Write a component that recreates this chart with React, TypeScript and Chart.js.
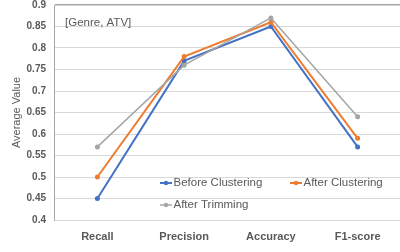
import React, { useEffect, useRef } from "react";
import { Chart, registerables } from "chart.js";

Chart.register(...registerables);

const categories = ["Recall", "Precision", "Accuracy", "F1-score"];
const beforeClustering = [0.45, 0.77, 0.85, 0.57];
const afterClustering = [0.5, 0.78, 0.86, 0.59];
const afterTrimming = [0.57, 0.76, 0.87, 0.64];
const seriesNames = ["Before Clustering", "After Clustering", "After Trimming"];
const annotationText = "[Genre, ATV]";
const yTitle = "Average Value";

const colors = ["#4472C4", "#ED7D31", "#A5A5A5"];
const textColor = "#595959";
const FONT = "'Liberation Sans', Arial, sans-serif";

const overlayPlugin = {
  id: "overlay",
  afterDatasetsDraw(chart: any) {
    const ctx = chart.ctx;
    ctx.save();
    ctx.font = `11.5px ${FONT}`;
    ctx.fillStyle = textColor;
    ctx.textBaseline = "middle";
    ctx.textAlign = "left";
    ctx.fillText(annotationText, 65, 23);
    const items = [
      { x: 160, y: 183 },
      { x: 290, y: 183 },
      { x: 160, y: 205 },
    ];
    ctx.font = `11.5px ${FONT}`;
    items.forEach((it, i) => {
      ctx.strokeStyle = colors[i];
      ctx.lineWidth = i === 2 ? 1.5 : 2;
      ctx.beginPath();
      ctx.moveTo(it.x, it.y);
      ctx.lineTo(it.x + 12, it.y);
      ctx.stroke();
      ctx.fillStyle = colors[i];
      ctx.beginPath();
      ctx.arc(it.x + 6, it.y, 2.2, 0, Math.PI * 2);
      ctx.fill();
      ctx.fillStyle = textColor;
      ctx.fillText(seriesNames[i], it.x + 13.5, it.y);
    });
    ctx.restore();
  },
};

export default function App() {
  const ref = useRef<HTMLCanvasElement>(null);
  useEffect(() => {
    if (!ref.current) return;
    const mk = (label: string, data: number[], i: number) => ({
      label,
      data,
      borderColor: colors[i],
      backgroundColor: colors[i],
      borderWidth: i === 2 ? 1.5 : 2,
      pointRadius: 2.5,
      pointBorderWidth: 0,
      pointBackgroundColor: colors[i],
      tension: 0,
    });
    const chart = new Chart(ref.current, {
      type: "line",
      data: {
        labels: categories,
        datasets: [
          mk(seriesNames[2], afterTrimming, 2),
          mk(seriesNames[1], afterClustering, 1),
          mk(seriesNames[0], beforeClustering, 0),
        ],
      },
      options: {
        responsive: false,
        animation: false,
        devicePixelRatio: 1,
        layout: { padding: { top: 5, left: 0, right: 0, bottom: 0 } },
        plugins: { legend: { display: false }, tooltip: { enabled: false } },
        scales: {
          x: {
            offset: true,
            grid: { display: false, drawTicks: false },
            border: { display: true, color: "#D9D9D9", width: 1 },
            ticks: {
              color: textColor,
              font: { family: FONT, size: 11, weight: "bold" },
              padding: 10,
              maxRotation: 0,
            },
            afterFit: (s: any) => {
              s.height = 32;
              s.paddingLeft = 0;
              s.paddingRight = 0;
            },
          },
          y: {
            min: 0.4,
            max: 0.9,
            ticks: {
              stepSize: 0.05,
              color: textColor,
              font: { family: FONT, size: 10, weight: "bold" },
              padding: 8,
              callback: (v: any) => String(+Number(v).toFixed(2)),
            },
            grid: {
              drawTicks: false,
              color: (c: any) =>
                c.tick && Math.abs(c.tick.value - 0.9) < 1e-6 ? "#A6A6A6" : "#D9D9D9",
              lineWidth: (c: any) =>
                c.tick && Math.abs(c.tick.value - 0.9) < 1e-6 ? 1.5 : 1,
            },
            border: { display: true, color: "#A6A6A6", width: 1 },
            title: {
              display: true,
              text: yTitle,
              color: textColor,
              font: { family: FONT, size: 11 },
              padding: { top: 10, bottom: 0 },
            },
            afterFit: (s: any) => {
              s.width = 54;
              s.paddingTop = 0;
              s.paddingBottom = 0;
            },
          },
        },
      },
      plugins: [overlayPlugin],
    });
    return () => chart.destroy();
  }, []);
  return (
    <div
      style={{
        position: "fixed",
        left: 0,
        top: 0,
        width: 400,
        height: 252,
        overflow: "hidden",
        background: "#fff",
      }}
    >
      <canvas ref={ref} width={405} height={252} style={{ display: "block" }} />
    </div>
  );
}
